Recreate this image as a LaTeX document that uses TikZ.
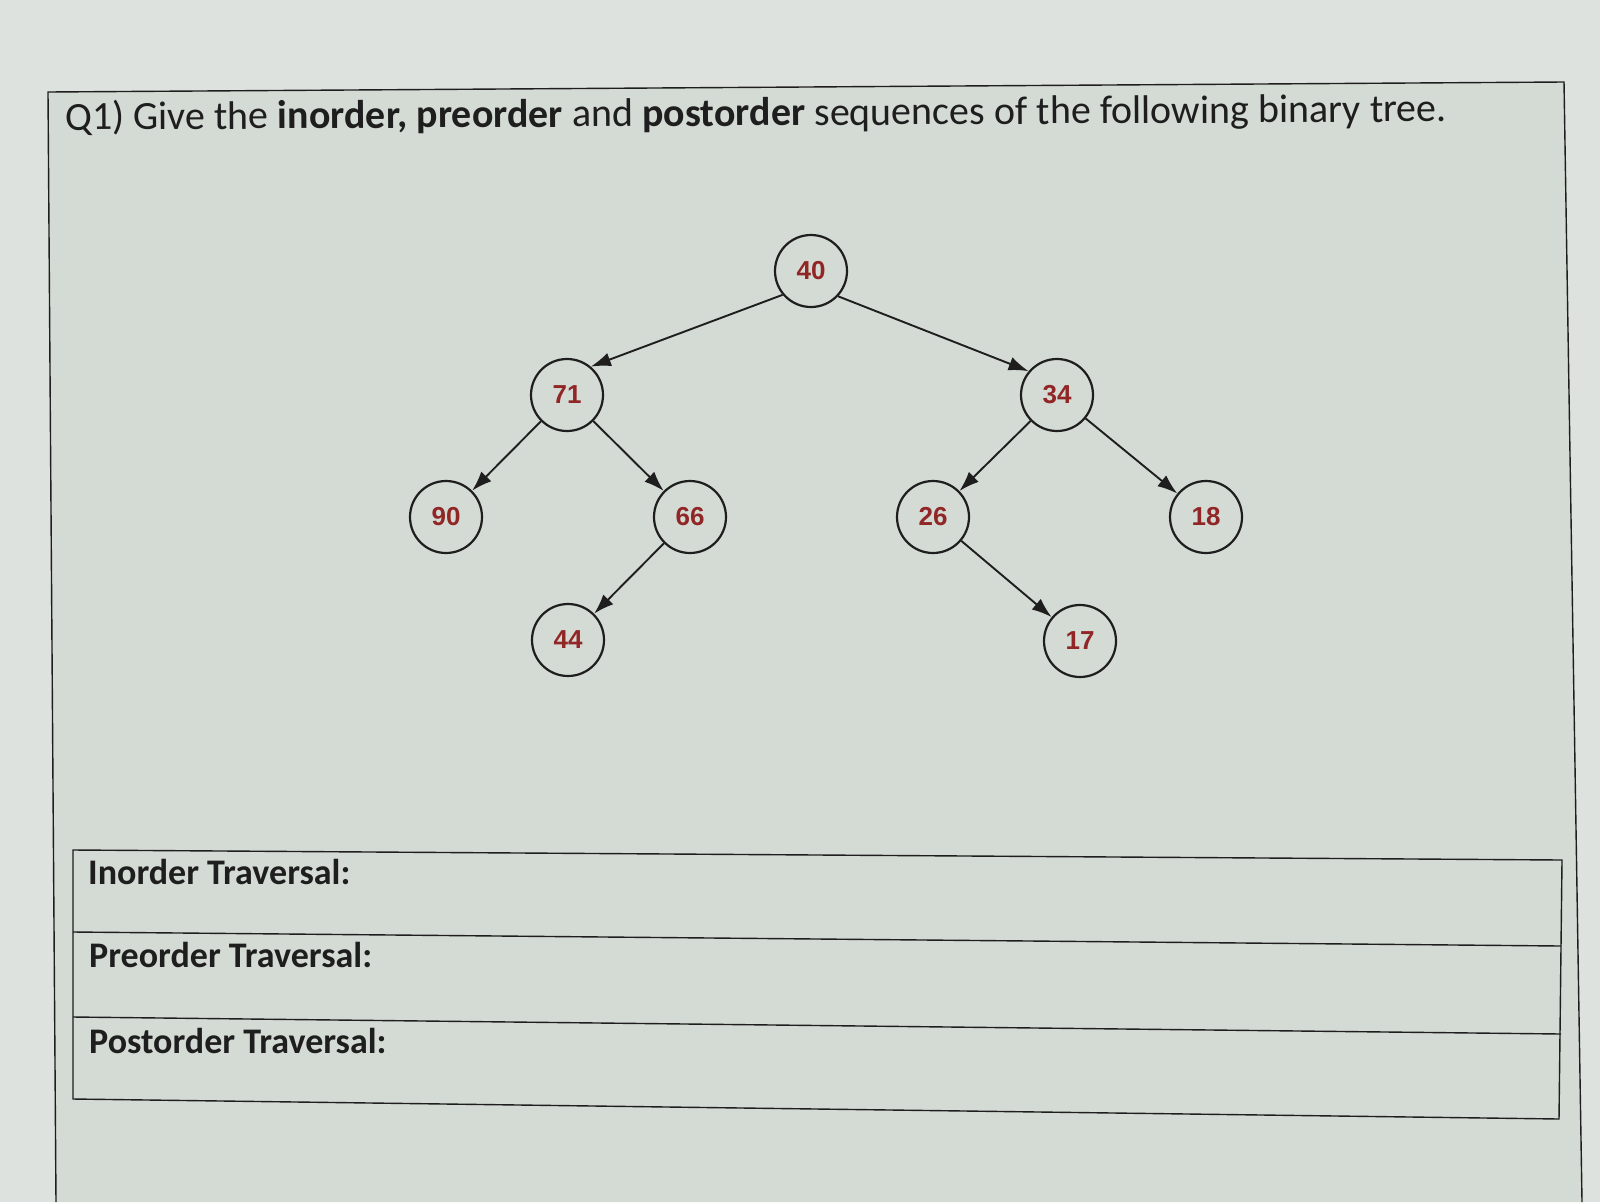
\documentclass[tikz,border=0pt]{standalone}
\usepackage{fontspec}
\setmainfont{Carlito}
\newfontfamily\arialb{Liberation Sans}
\usetikzlibrary{arrows.meta}
\definecolor{bg}{RGB}{212,218,212}
\definecolor{bgtop}{RGB}{222,226,222}
\definecolor{numred}{RGB}{145,38,38}
\definecolor{ink}{RGB}{30,30,30}
\begin{document}
\begin{tikzpicture}[x=1pt,y=-1pt,
  tn/.style={circle,draw=ink,line width=2.2pt,minimum size=72pt,inner sep=0pt,
    font=\arialb\bfseries\fontsize{26}{26}\selectfont,text=numred},
  edge/.style={ink,line width=1.9pt,-{Latex[length=20pt,width=14pt]}},
  frame/.style={ink,line width=1.4pt},
  lbl/.style={anchor=base west,inner sep=0pt,font=\bfseries\fontsize{36}{36}\selectfont,text=ink}]
\fill[bgtop] (0,0) rectangle (1600,1202);
\fill[bg] (48,92) -- (1564,82) -- (1582,1202) -- (56,1202) -- cycle;
\useasboundingbox (0,0) rectangle (1600,1202);
% page frame
\draw[frame] (56,1202) -- (48,92) -- (1564,82) -- (1582,1202);
% title
\node[anchor=base west,inner sep=0pt,rotate=0.35,text=ink,font=\fontsize{40}{40}\selectfont] (title) at (65,130)
  {Q1) Give the \textbf{inorder, preorder} and \textbf{postorder} sequences of the following binary tree.};
% tree
\node[tn] (n40) at (811,271) {40};
\node[tn] (n71) at (567,395) {71};
\node[tn] (n34) at (1057,395) {34};
\node[tn] (n90) at (446,517) {90};
\node[tn] (n66) at (690,517) {66};
\node[tn] (n26) at (933,517) {26};
\node[tn] (n18) at (1206,517) {18};
\node[tn] (n44) at (568,640) {44};
\node[tn] (n17) at (1080,641) {17};
\draw[edge] (n40.220) -- (n71.50);
\draw[edge] (n40.317) -- (n34.140);
\draw[edge] (n71) -- (n90);
\draw[edge] (n71) -- (n66);
\draw[edge] (n66) -- (n44);
\draw[edge] (n34) -- (n26);
\draw[edge] (n34) -- (n18);
\draw[edge] (n26) -- (n17);
% answer table
\draw[frame] (73,850) -- (1562,860) -- (1559,1119) -- (73,1099) -- cycle;
\draw[frame] (73,932) -- (1561,946);
\draw[frame] (73,1017) -- (1561,1034);
\node[lbl] (inord) at (88,884) {Inorder Traversal:};
\node[lbl] (preord) at (89,967) {Preorder Traversal:};
\node[lbl] (postord) at (89,1053) {Postorder Traversal:};
\end{tikzpicture}
\end{document}
